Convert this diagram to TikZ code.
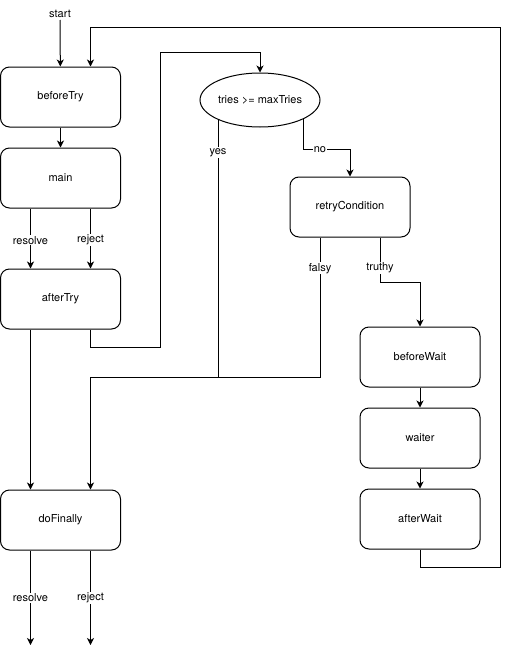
\documentclass[tikz,border=0pt]{standalone}
\usepackage{fontspec}
\setmainfont{TeX Gyre Heros}
\usetikzlibrary{positioning, arrows.meta, shapes.geometric}

\tikzset{
	txt/.style={font=\fontsize{11}{13}\selectfont},
	block/.style={draw, txt, rounded corners=9pt, minimum width=120pt, minimum height=60pt, inner sep=0pt},
	test/.style={draw, txt, ellipse, minimum width=120pt, minimum height=54pt, inner sep=0pt},
	lbl/.style={txt, fill=white, inner sep=1pt},
	flow/.style={-{Stealth[length=7pt, width=7pt, inset=2pt]}}
}

\begin{document}
\begin{tikzpicture}[x=1pt, y=-1pt, node distance=20pt, line width=1pt]
			\useasboundingbox (0,0) rectangle (509,656);

			\node[txt, anchor=south, inner sep=2pt] (start) at (60,20) {start};
			\node[block] (beforeTry) at (60.5,97) {beforeTry};
			\node[block, below=of beforeTry] (main) {main};
			\node[block, below=60pt of main] (afterTry) {afterTry};
			\node[block, below=160pt of afterTry] (doFinally) {doFinally};

			\node[test] (check) at (260,100) {tries >= maxTries};
			\node[block] (retryCond) at (350,207) {retryCondition};

			\node[block] (beforeWait) at (420,357) {beforeWait};
			\node[block, below=of beforeWait] (waiter) {waiter};
			\node[block, below=of waiter] (afterWait) {afterWait};

			\coordinate (loopR) at (500,567);
			\coordinate (loopT) at (500,27);
			\coordinate (jumpB) at (160,347);
			\coordinate (jumpT) at (160,52);
			\coordinate (join) at (320,377);
			\coordinate (yesTop) at ([shift={(-42,19)}]check.center);
			\coordinate (noTop) at ([shift={(43,19)}]check.center);
			\coordinate (outRes) at (30.5,645);
			\coordinate (outRej) at (90.5,645);

			\draw[flow] (start) -- (beforeTry);
			\draw[flow] (beforeTry) -- (main);
			\draw[flow] ([xshift=-30pt]main.south) -- node[lbl, pos=0.53]{resolve} ([xshift=-30pt]afterTry.north);
			\draw[flow] ([xshift=30pt]main.south) -- node[lbl, pos=0.53]{reject} ([xshift=30pt]afterTry.north);
			\draw[flow] ([xshift=-30pt]afterTry.south) -- ([xshift=-30pt]doFinally.north);
			\draw[flow] ([xshift=30pt]afterTry.south) |- (jumpB) -- (jumpT) -| (check.north);

			\draw (yesTop) -- node[lbl, pos=0.13]{yes} (yesTop |- join);
			\draw[flow] (noTop) |- node[lbl, pos=0.68]{no} ([yshift=27pt]retryCond.north) -- (retryCond.north);
			\draw[flow] ([xshift=-30pt]retryCond.south) -- node[lbl, pos=0.22]{falsy} (join) -| ([xshift=30pt]doFinally.north);
			\draw[flow] ([xshift=30pt]retryCond.south) |- node[lbl, pos=0.34]{truthy} ([yshift=44pt]beforeWait.north) -- (beforeWait.north);

			\draw[flow] (beforeWait) -- (waiter);
			\draw[flow] (waiter) -- (afterWait);
			\draw[flow] (afterWait.south) |- (loopR) -- (loopT) -| ([xshift=30pt]beforeTry.north);

			\draw[flow] ([xshift=-30pt]doFinally.south) -- node[lbl, pos=0.5]{resolve} (outRes);
			\draw[flow] ([xshift=30pt]doFinally.south) -- node[lbl, pos=0.5]{reject} (outRej);
		\end{tikzpicture}
\end{document}
